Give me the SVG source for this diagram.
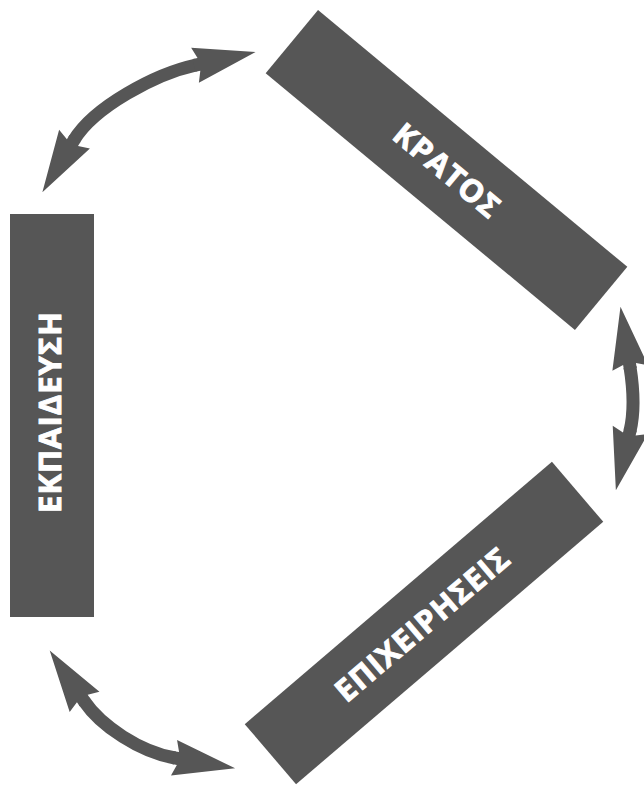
<svg xmlns="http://www.w3.org/2000/svg" width="644" height="786" viewBox="0 0 644 786">
  <style>
    .box { fill: #565656; }
    .label { fill: #ffffff; stroke: #ffffff; stroke-width: 0.9px; font-family: "Open Sans", "Noto Sans", "DejaVu Sans", sans-serif; font-weight: bold; font-size: 31px; text-anchor: middle; letter-spacing: 1px; }
    .shaft { fill: none; stroke: #565656; stroke-width: 13; }
  </style>
  <defs>
    <marker id="head" markerUnits="userSpaceOnUse" orient="auto-start-reverse" refX="0" refY="0" markerWidth="90" markerHeight="50" viewBox="-10 -25 90 50" overflow="visible">
      <path d="M61,0 L-1,-18 L3,-6.5 L-2,-6.5 L-2,6.5 L3,6.5 L-1,18 Z" fill="#565656"/>
    </marker>
  </defs>
  <rect width="644" height="786" fill="#ffffff"/>

  <g id="connectors">
    <path id="arrow-ekp-kratos" class="shaft" d="M74,140 C94,107 155,74 196,65" marker-start="url(#head)" marker-end="url(#head)"/>
    <path id="arrow-kratos-epix" class="shaft" d="M630,367 C633,386 635,410 630,431" marker-start="url(#head)" marker-end="url(#head)"/>
    <path id="arrow-ekp-epix" class="shaft" d="M84,701 C101,726 140,752 175,758" marker-start="url(#head)" marker-end="url(#head)"/>
  </g>

  <g id="node-kratos" transform="translate(446.5,170) rotate(39.7)">
    <rect class="box" x="-201" y="-41" width="402" height="82"/>
    <text class="label" x="1" y="11">ΚΡΑΤΟΣ</text>
  </g>

  <g id="node-epixeiriseis" transform="translate(424,623) rotate(-40.5)">
    <rect class="box" x="-202" y="-39.5" width="404" height="79"/>
    <text class="label" x="-2" y="11">ΕΠΙΧΕΙΡΗΣΕΙΣ</text>
  </g>

  <g id="node-ekpaideysi">
    <rect class="box" x="10" y="214" width="84" height="403"/>
    <text class="label" transform="translate(50,412) rotate(-90)" x="0" y="11">ΕΚΠΑΙΔΕΥΣΗ</text>
  </g>
</svg>
